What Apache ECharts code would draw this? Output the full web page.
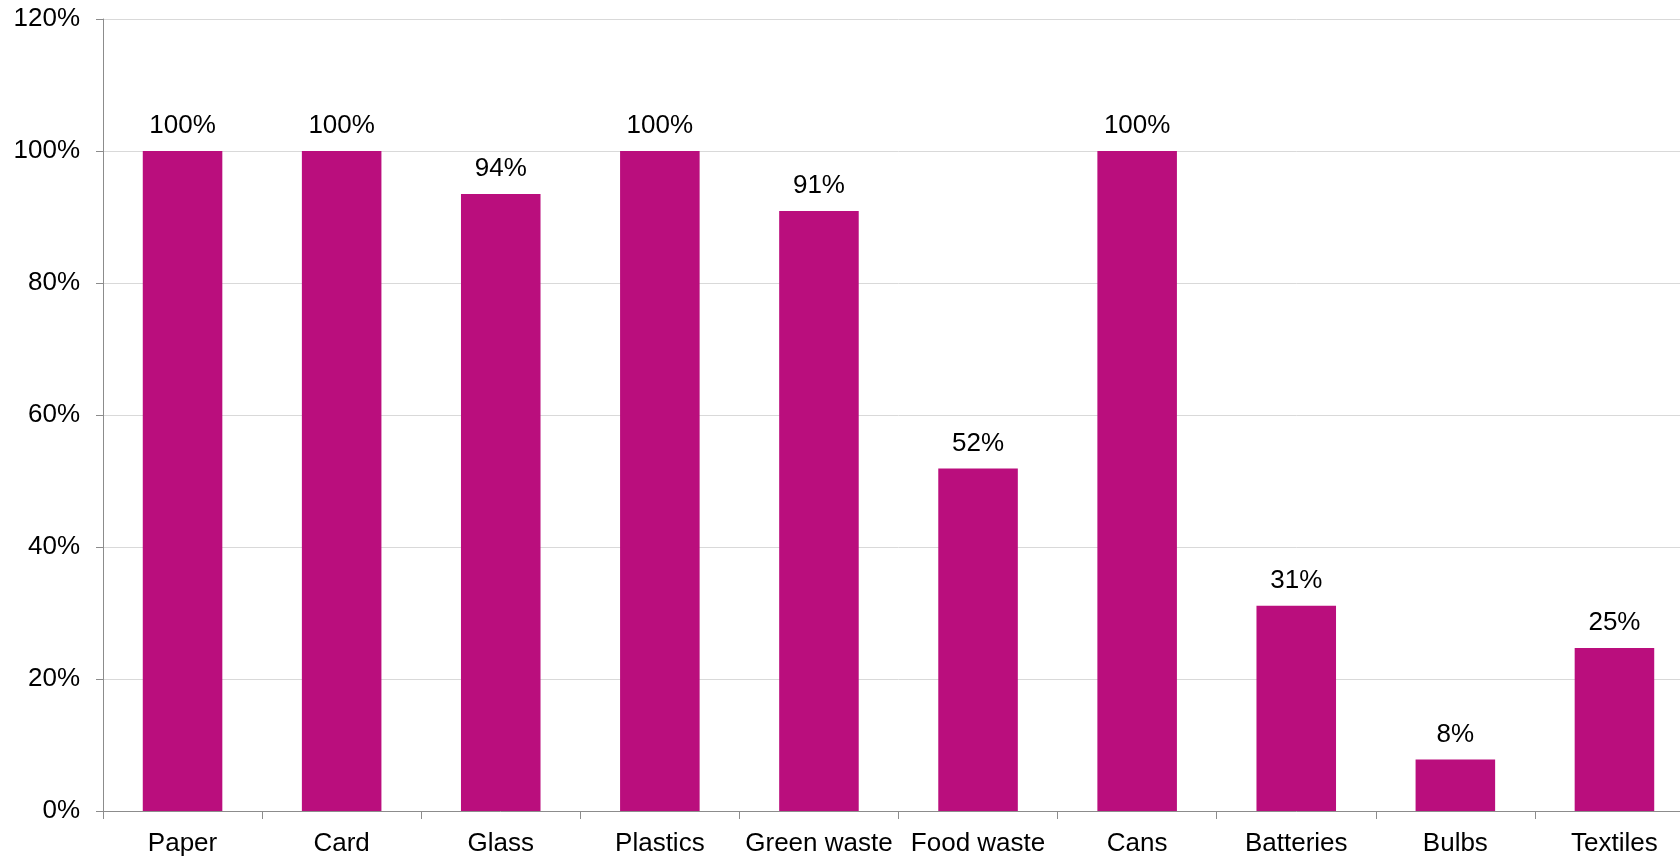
<!DOCTYPE html>
<html>
<head>
<meta charset="utf-8">
<style>
  html, body { margin: 0; padding: 0; background: #ffffff; overflow: hidden; }
  #chart { width: 1710px; height: 857px; }
</style>
<script src="https://cdn.jsdelivr.net/npm/echarts@6/dist/echarts.min.js"></script>
</head>
<body>
<div id="chart"></div>
<script>
// Share of households with a collection service, by material
const categories = ['Paper', 'Card', 'Glass', 'Plastics', 'Green waste', 'Food waste', 'Cans', 'Batteries', 'Bulbs', 'Textiles'];
const coverage = [1.00, 1.00, 0.935, 1.00, 0.909, 0.519, 1.00, 0.311, 0.078, 0.247];
const yTicks = [0, 0.2, 0.4, 0.6, 0.8, 1.0, 1.2];

const FONT = '"Liberation Sans", Arial, sans-serif';
const pct = v => Math.round(v * 100) + '%';

const chart = echarts.init(document.getElementById('chart'), null, { renderer: 'canvas' });
chart.setOption({
  animation: false,
  backgroundColor: '#ffffff',
  // plot area runs slightly past the right edge of the visible page
  grid: { left: 103, top: 19, width: 1591, height: 792, containLabel: false },
  xAxis: {
    type: 'category',
    data: categories,
    axisLine: { lineStyle: { color: '#8c8c8c', width: 1 } },
    axisTick: { show: true, length: 8, alignWithLabel: false, lineStyle: { color: '#8c8c8c' } },
    axisLabel: { color: '#000000', fontFamily: FONT, fontSize: 26, margin: 20, interval: 0 }
  },
  yAxis: {
    type: 'value',
    min: yTicks[0],
    max: yTicks[yTicks.length - 1],
    interval: 0.2,
    axisLine: { show: true, lineStyle: { color: '#8c8c8c', width: 1 } },
    axisTick: { show: true, length: 7, inside: false, lineStyle: { color: '#8c8c8c' } },
    splitLine: { show: true, lineStyle: { color: '#d9d9d9', width: 1 } },
    axisLabel: { color: '#000000', fontFamily: FONT, fontSize: 26, margin: 23, formatter: v => pct(v) }
  },
  series: [{
    type: 'bar',
    data: coverage,
    barWidth: '50%',
    itemStyle: { color: '#BA0E7D' },
    label: {
      show: true,
      position: 'top',
      distance: 12,
      color: '#000000',
      fontFamily: FONT,
      fontSize: 26,
      formatter: p => pct(p.value)
    }
  }]
});
</script>
</body>
</html>
